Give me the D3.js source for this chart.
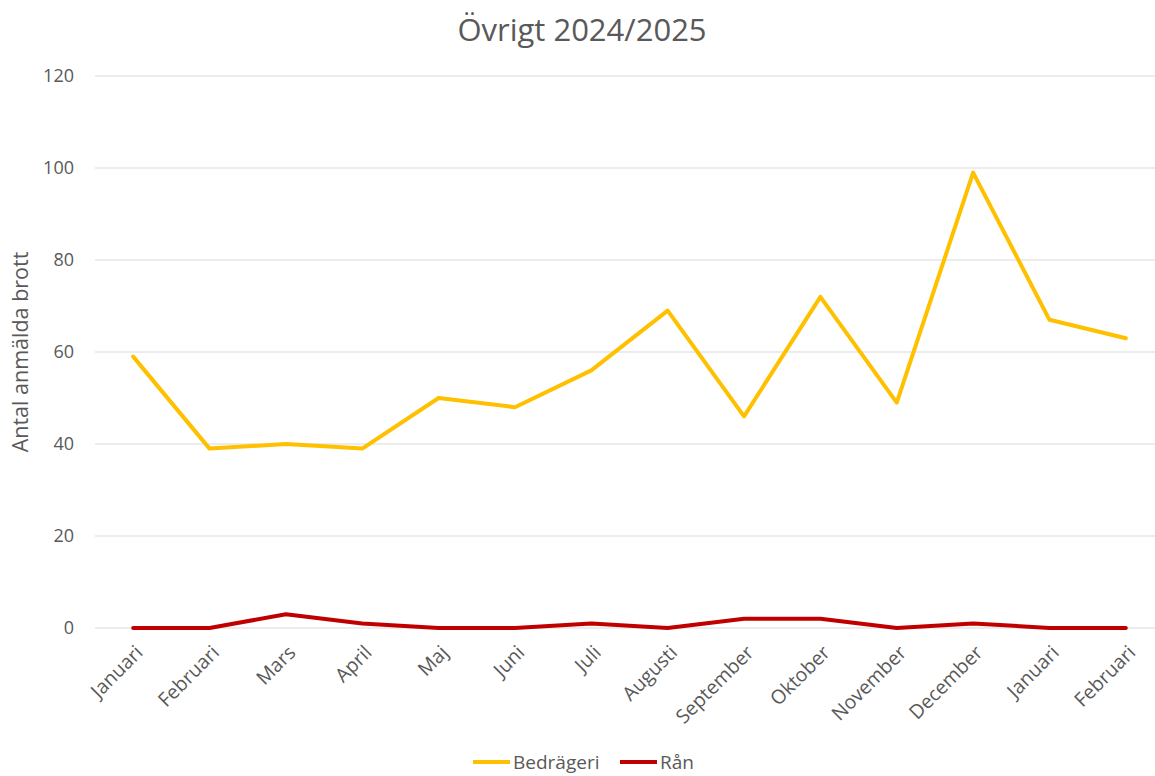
<!DOCTYPE html>
<html>
<head>
<meta charset="utf-8">
<script src="https://cdn.jsdelivr.net/npm/d3@7"></script>
<style>
  body { margin: 0; background: #fff; }
  svg text { font-family: "Open Sans", sans-serif; fill: #595959; }
</style>
</head>
<body>
<svg id="chart" width="1155" height="776"></svg>
<script>
// chart values
const months = ["Januari", "Februari", "Mars", "April", "Maj", "Juni", "Juli",
  "Augusti", "September", "Oktober", "November", "December", "Januari", "Februari"];
const bedrageri = [59, 39, 40, 39, 50, 48, 56, 69, 46, 72, 49, 99, 67, 63];
const ran = [0, 0, 3, 1, 0, 0, 1, 0, 2, 2, 0, 1, 0, 0];
const yTicks = [0, 20, 40, 60, 80, 100, 120];

const series = [
  { name: "Bedrägeri", values: bedrageri, color: "#FFC000" },
  { name: "Rån", values: ran, color: "#C00000" }
];

const svg = d3.select("#chart");
const plot = { left: 95, right: 1164, top: 76, bottom: 628 };

const idx = months.map((d, i) => i);
const x = d3.scaleBand().domain(idx).range([plot.left, plot.right]);
const y = d3.scaleLinear().domain([0, 120]).range([plot.bottom, plot.top]);

// title
svg.append("text")
  .attr("x", 582).attr("y", 41)
  .attr("text-anchor", "middle")
  .style("font-size", "31px")
  .text("Övrigt 2024/2025");

// gridlines
svg.append("g").selectAll("line")
  .data(yTicks)
  .join("line")
  .attr("x1", plot.left).attr("x2", plot.right)
  .attr("y1", d => y(d)).attr("y2", d => y(d))
  .attr("stroke", "#d9d9d9").attr("stroke-width", 1);

// y axis labels
svg.append("g").selectAll("text")
  .data(yTicks)
  .join("text")
  .attr("x", 74).attr("y", d => y(d))
  .attr("dy", "0.35em")
  .attr("text-anchor", "end")
  .style("font-size", "18px")
  .text(d => d);

// y axis title
svg.append("text")
  .attr("transform", `translate(28,${(plot.top + plot.bottom) / 2}) rotate(-90)`)
  .attr("text-anchor", "middle")
  .style("font-size", "21.5px")
  .text("Antal anmälda brott");

// x labels
svg.append("g").selectAll("text")
  .data(idx)
  .join("text")
  .attr("transform", d => `translate(${x(d) + x.bandwidth() / 2 + 6},${plot.bottom + 21}) rotate(-45)`)
  .attr("text-anchor", "end")
  .attr("dy", "0.35em")
  .style("font-size", "19.5px")
  .text(d => months[d]);

// lines
const line = d3.line()
  .x((d, i) => x(i) + x.bandwidth() / 2)
  .y(d => y(d));

svg.append("g").selectAll("path")
  .data(series)
  .join("path")
  .attr("d", d => line(d.values))
  .attr("fill", "none")
  .attr("stroke", d => d.color)
  .attr("stroke-width", 4)
  .attr("stroke-linejoin", "round")
  .attr("stroke-linecap", "round");

// legend
const legendX = [473, 620];
const lg = svg.append("g").selectAll("g")
  .data(series)
  .join("g")
  .attr("transform", (d, i) => `translate(${legendX[i]},762)`);
lg.append("line")
  .attr("x1", 0).attr("x2", 37)
  .attr("stroke", d => d.color).attr("stroke-width", 4);
lg.append("text")
  .attr("x", 40).attr("dy", "0.35em")
  .style("font-size", "19px")
  .text(d => d.name);
</script>
</body>
</html>
